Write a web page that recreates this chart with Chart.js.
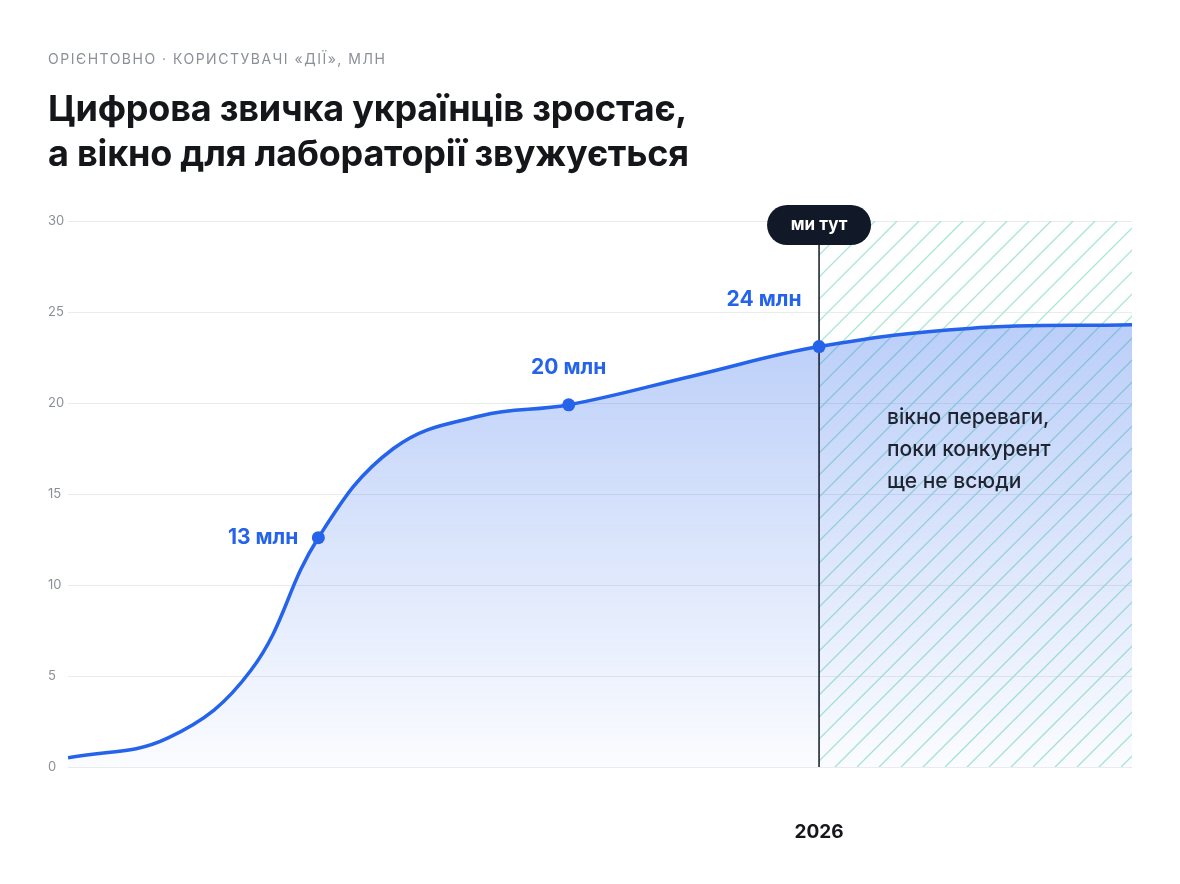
<!DOCTYPE html>
<html><head><meta charset="utf-8">
<script src="https://cdn.jsdelivr.net/npm/chart.js@4"></script>
<style>
body{margin:0;background:#fff;font-family:Inter,sans-serif;}
#wrap{position:relative;width:1180px;height:884px;}
.kicker{position:absolute;left:48px;top:50px;font-size:14px;letter-spacing:1.5px;color:#8a8f98;}
h1{position:absolute;left:48px;top:86px;margin:0;font-size:36px;line-height:45px;font-weight:700;color:#14161a;letter-spacing:-0.2px;}
canvas{position:absolute;left:0;top:0;}
</style></head><body>
<div id="wrap">
<canvas id="c" width="1180" height="884"></canvas>
<div class="kicker">ОРІЄНТОВНО · КОРИСТУВАЧІ «ДІЇ», МЛН</div>
<h1>Цифрова звичка українців зростає,<br>а вікно для лабораторії звужується</h1>
</div>
<script>
const years = [2023, 2023.4, 2023.73, 2024, 2024.3, 2024.65, 2025, 2025.5, 2026, 2026.6, 2027.25];
const users = [0.5, 1.6, 5.3, 12.6, 17.5, 19.3, 19.9, 21.5, 23.1, 24.1, 24.3];
const markYears = [2024, 2025, 2026];
const markLabels = ['13 млн', '20 млн', '24 млн'];
const yTicks = [0, 5, 10, 15, 20, 25, 30];
const nowYear = 2026;
const windowText = ['вікно переваги,', 'поки конкурент', 'ще не всюди'];

const ctx = document.getElementById('c');

const overlay = {
  id: 'overlay',
  beforeDatasetsDraw(chart) {
    const { ctx, chartArea: a, scales: { x } } = chart;
    const nx = x.getPixelForValue(nowYear);
    ctx.save();
    ctx.beginPath();
    ctx.rect(nx, a.top, a.right - nx, a.bottom - a.top);
    ctx.clip();
    ctx.strokeStyle = '#a8e6d4';
    ctx.lineWidth = 1.3;
    for (let i = -600; i < 400; i += 22) {
      ctx.beginPath();
      ctx.moveTo(nx + i, a.bottom);
      ctx.lineTo(nx + i + 600, a.bottom - 600);
      ctx.stroke();
    }
    ctx.restore();
  },
  afterDatasetsDraw(chart) {
    const { ctx, chartArea: a, scales: { x, y } } = chart;
    const nx = x.getPixelForValue(nowYear);
    ctx.save();
    ctx.strokeStyle = '#111827';
    ctx.lineWidth = 1.5;
    ctx.beginPath();
    ctx.moveTo(nx, a.top);
    ctx.lineTo(nx, a.bottom);
    ctx.stroke();
    ctx.fillStyle = '#111827';
    ctx.beginPath();
    ctx.roundRect(nx - 52, a.top - 16, 104, 40, 20);
    ctx.fill();
    ctx.fillStyle = '#fff';
    ctx.font = '700 17px Inter';
    ctx.textAlign = 'center';
    ctx.textBaseline = 'middle';
    ctx.fillText('ми тут', nx, a.top + 4);
    markYears.forEach((yr, i) => {
      const v = users[years.indexOf(yr)];
      const px = x.getPixelForValue(yr), py = y.getPixelForValue(v);
      ctx.fillStyle = '#2563eb';
      ctx.beginPath();
      ctx.arc(px, py, 6.5, 0, Math.PI * 2);
      ctx.fill();
      ctx.font = '700 21px Inter';
      if (i === 0) {
        ctx.textAlign = 'right';
        ctx.fillText(markLabels[i], px - 20, py);
      } else {
        ctx.textAlign = 'center';
        ctx.fillText(markLabels[i], px - (i === 2 ? 55 : 0), py - 37 - (i === 2 ? 10 : 0));
      }
    });
    ctx.fillStyle = '#1f2430';
    ctx.font = '500 21px Inter';
    ctx.textAlign = 'left';
    windowText.forEach((t, i) => ctx.fillText(t, nx + 68, 418 + i * 32));
    ctx.restore();
  }
};

new Chart(ctx, {
  type: 'line',
  data: {
    datasets: [{
      data: years.map((yr, i) => ({ x: yr, y: users[i] })),
      borderColor: '#2563eb',
      borderWidth: 3.5,
      pointRadius: 0,
      tension: 0.4,
      fill: 'origin',
      backgroundColor(c) {
        const a = c.chart.chartArea;
        if (!a) return 'rgba(37,99,235,0.2)';
        const g = c.chart.ctx.createLinearGradient(0, a.top, 0, a.bottom);
        g.addColorStop(0, 'rgba(37,99,235,0.38)');
        g.addColorStop(1, 'rgba(37,99,235,0.02)');
        return g;
      }
    }]
  },
  options: {
    responsive: false,
    animation: false,
    layout: { padding: { left: 48, right: 48, top: 221, bottom: 0 } },
    plugins: { legend: { display: false }, tooltip: { enabled: false } },
    scales: {
      x: {
        type: 'linear', min: 2023, max: 2027.25,
        grid: { display: false }, border: { display: false },
        afterBuildTicks(s) { s.ticks = [{ value: nowYear }]; },
        afterFit(s) { s.height = 117; },
        ticks: { padding: 46, color: '#14161a', font: { family: 'Inter', size: 19, weight: '700' }, callback: v => String(v) }
      },
      y: {
        min: 0, max: 30,
        afterBuildTicks(s) { s.ticks = yTicks.map(v => ({ value: v })); },
        afterFit(s) { s.width = 20; },
        grid: { color: '#e9ebef', lineWidth: 1, drawTicks: false },
        border: { display: false },
        ticks: { padding: 0, crossAlign: 'far', color: '#8a8f98', font: { family: 'Inter', size: 13 } }
      }
    }
  },
  plugins: [overlay]
});
</script>
</body></html>
